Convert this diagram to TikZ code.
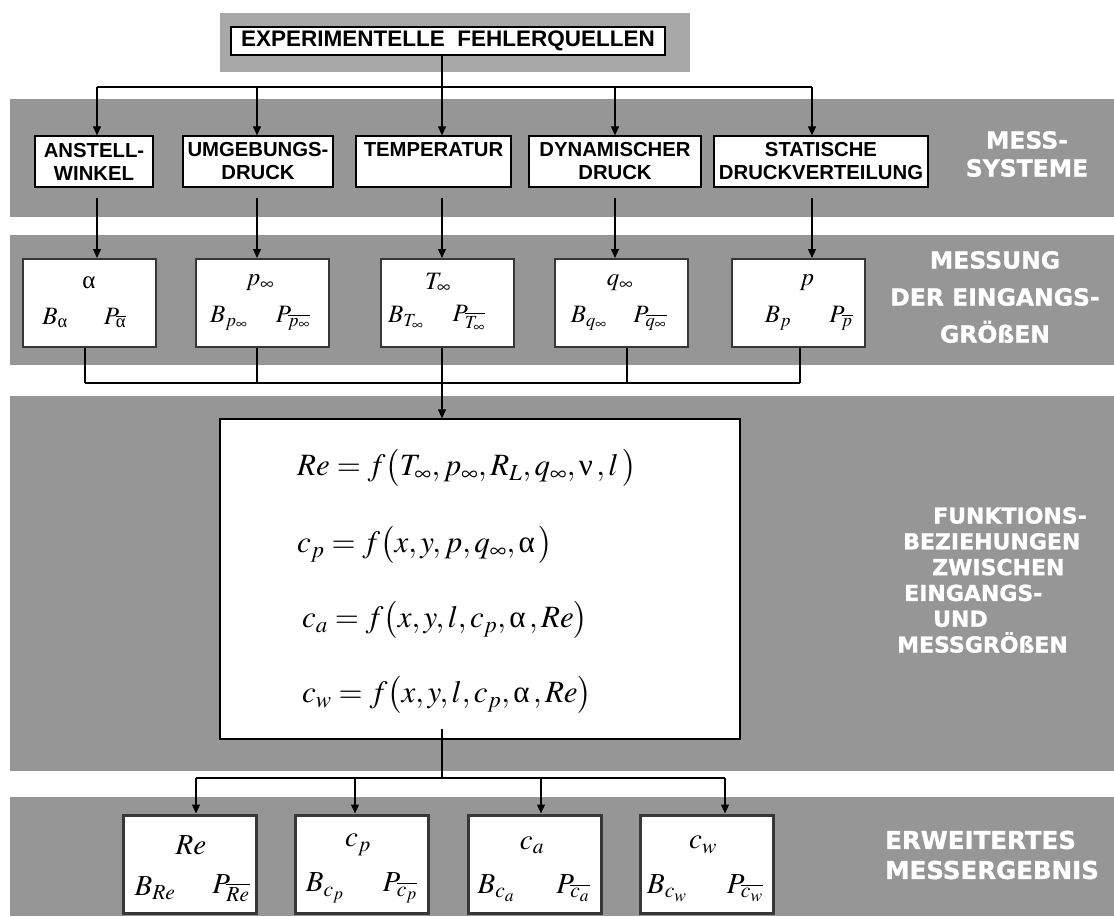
\documentclass[tikz,border=0pt]{standalone}
\usepackage{amsmath}
\usepackage{mathptmx}
\usepackage[no-math]{fontspec}
\setmainfont{Liberation Sans}
\newfontfamily\labelfont{DejaVu Sans}[BoldFeatures={FakeBold=1.2}]
\newfontfamily\grk{Liberation Serif}
\usetikzlibrary{arrows.meta}
\newcommand\ualpha{\text{\grk α}}
\newcommand\unu{\text{\grk ν}}
\definecolor{bandgray}{RGB}{150,150,150}
\definecolor{topgray}{RGB}{168,168,168}
\definecolor{edgegray}{RGB}{55,55,55}
\tikzset{
  wire/.style={line width=1.2pt, draw=black},
  arr/.style={wire, -{Triangle[length=9pt,width=8pt]}},
  sysbox/.style={draw=black, line width=1.3pt, fill=white, inner sep=0pt,
    align=center, font=\bfseries\fontsize{20.3}{23}\selectfont},
  inbox/.style={draw=edgegray, line width=2pt, fill=white,
    minimum width=133pt, minimum height=88pt},
  outbox/.style={draw=edgegray, line width=3pt, fill=white,
    minimum width=133pt, minimum height=98pt},
  sym/.style={inner sep=0pt, font=\fontsize{25}{29}\selectfont},
  bigsym/.style={inner sep=0pt, font=\fontsize{29}{34}\selectfont},
  formula/.style={inner sep=0pt, anchor=west, font=\fontsize{31}{37}\selectfont},
  lbl/.style={text=white, inner sep=0pt, font=\labelfont\bfseries\fontsize{23.5}{28}\selectfont},
}
\begin{document}
\begin{tikzpicture}[x=1pt,y=-1pt]
\useasboundingbox (0,0) rectangle (1114,916);

% background bands
\fill[topgray]  (220,13) rectangle (690,72);
\fill[bandgray] (10,99)  rectangle (1114,217);
\fill[bandgray] (10,235) rectangle (1114,365);
\fill[bandgray] (10,396) rectangle (1114,771);
\fill[bandgray] (10,797) rectangle (1114,916);

% title
\node[sysbox, font=\bfseries\fontsize{22.5}{26}\selectfont,
      minimum width=434pt, minimum height=28pt] (title) at (448,41)
      {EXPERIMENTELLE\ \ FEHLERQUELLEN};

% measuring systems
\node[sysbox, minimum width=118pt, minimum height=51pt] (anst) at (94,161.5) {ANSTELL-\\WINKEL};
\node[sysbox, minimum width=150pt, minimum height=51pt] (umg)  at (258,161.5) {UMGEBUNGS-\\DRUCK};
\node[sysbox, minimum width=155pt, minimum height=51pt] (temp) at (433.5,161.5) {TEMPERATUR\\\mbox{}};
\node[sysbox, minimum width=172pt, minimum height=51pt] (dyn)  at (615,161.5) {DYNAMISCHER\\DRUCK};
\node[sysbox, minimum width=214pt, minimum height=51pt] (stat) at (821,161.5) {STATISCHE\\DRUCKVERTEILUNG};

% column positions of the connectors
\coordinate (t1) at (97,87);
\coordinate (t2) at (257,87);
\coordinate (t3) at (442,87);
\coordinate (t4) at (615,87);
\coordinate (t5) at (812,87);

\draw[arr] (title.south -| t3) -- (t3 |- temp.north);
\draw[wire] (t1) -- (t5);
\foreach \c/\b in {t1/anst, t2/umg, t4/dyn, t5/stat}
  \draw[arr] (\c) -- (\c |- \b.north);

% input quantities
\node[inbox] (a)    at (89,303)  {};
\node[inbox] (pinf) at (262,303) {};
\node[inbox] (Tinf) at (447,303) {};
\node[inbox] (qinf) at (621,303) {};
\node[inbox] (p)    at (798,303) {};

\foreach \c/\u/\b in {t1/anst/a, t2/umg/pinf, t3/temp/Tinf, t4/dyn/qinf, t5/stat/p}
  \draw[arr] ([yshift=-10pt]\u.south -| \c) -- (\c |- \b.north);

\node[sym] (a-v) at (89,283)  {$\ualpha$};
\node[sym] (a-b) at (55,318)  {$B_{\ualpha}$};
\node[sym] (a-p) at (115,318) {$P_{\overline{\ualpha}}$};
\node[sym] (pinf-v) at (260,283) {$p_\infty$};
\node[sym] (pinf-b) at (229,318) {$B_{p_\infty}$};
\node[sym] (pinf-p) at (293,318) {$P_{\overline{p_\infty}}$};
\node[sym] (Tinf-v) at (438,283) {$T_\infty$};
\node[sym] (Tinf-b) at (406,318) {$B_{T_\infty}$};
\node[sym] (Tinf-p) at (469,318) {$P_{\overline{T_\infty}}$};
\node[sym] (qinf-v) at (620,283) {$q_\infty$};
\node[sym] (qinf-b) at (589,318) {$B_{q_\infty}$};
\node[sym] (qinf-p) at (650,318) {$P_{\overline{q_\infty}}$};
\node[sym] (p-v) at (807,283) {$p$};
\node[sym] (p-b) at (778,318) {$B_p$};
\node[sym] (p-p) at (841,318) {$P_{\overline{p}}$};

% collecting line
\coordinate (m1) at (85,383);
\coordinate (m2) at (257,383);
\coordinate (m3) at (442,383);
\coordinate (m4) at (627,383);
\coordinate (m5) at (800,383);
\foreach \c/\b in {m1/a, m2/pinf, m3/Tinf, m4/qinf, m5/p}
  \draw[wire] (\c |- \b.south) -- (\c);
\draw[wire] (m1) -- (m5);

% functional relations
\node[draw=black, line width=1.3pt, fill=white, minimum width=520pt,
      minimum height=320pt] (f) at (480,579) {};
\draw[arr] (m3) -- (m3 |- f.north);
\node[formula] (eq1) at (297,468) {$Re = f\bigl(T_\infty, p_\infty, R_L, q_\infty,\unu\,,l\,\bigr)$};
\node[formula] (eq2) at (297,545) {$c_p = f\bigl(x, y, p, q_\infty,\ualpha\,\bigr)$};
\node[formula] (eq3) at (302,620) {$c_a = f\bigl(x, y, l, c_p,\ualpha\,, Re\bigr)$};
\node[formula] (eq4) at (302,695) {$c_w = f\bigl(x, y, l, c_p,\ualpha\,, Re\bigr)$};

% extended results
\node[outbox] (re) at (189.5,864) {};
\node[outbox] (cp) at (361.5,864) {};
\node[outbox] (ca) at (535,864)   {};
\node[outbox] (cw) at (706.5,864) {};

\coordinate (o0) at (442,778);
\coordinate (r1) at (196,778);
\coordinate (r2) at (355,778);
\coordinate (r3) at (541,778);
\coordinate (r4) at (725,778);
\draw[wire] ([yshift=11pt]f.south -| o0) -- (o0);
\draw[wire] (r1) -- (r4);
\foreach \c/\b in {r1/re, r2/cp, r3/ca, r4/cw}
  \draw[arr] (\c) -- (\c |- \b.north);

\node[bigsym] (re-v) at (191,845) {$Re$};
\node[bigsym] (re-b) at (155,888) {$B_{Re}$};
\node[bigsym] (re-p) at (231,888) {$P_{\overline{Re}}$};
\node[bigsym] (cp-v) at (358,845) {$c_p$};
\node[bigsym] (cp-b) at (325,888) {$B_{c_p}$};
\node[bigsym] (cp-p) at (400,888) {$P_{\overline{c_p}}$};
\node[bigsym] (ca-v) at (532,845) {$c_a$};
\node[bigsym] (ca-b) at (496,888) {$B_{c_a}$};
\node[bigsym] (ca-p) at (573,888) {$P_{\overline{c_a}}$};
\node[bigsym] (cw-v) at (703,845) {$c_w$};
\node[bigsym] (cw-b) at (667,888) {$B_{c_w}$};
\node[bigsym] (cw-p) at (745,888) {$P_{\overline{c_w}}$};

% row labels
\node[lbl, align=center] (l1) at (1027,154) {MESS-\\SYSTEME};
\node[lbl, align=center, font=\labelfont\bfseries\fontsize{23.5}{37}\selectfont] (l2) at (995,297)
  {MESSUNG\\DER EINGANGS-\\GRÖßEN};
\node[lbl, align=left, anchor=north west, font=\labelfont\bfseries\fontsize{22}{25.8}\selectfont] (l3) at (897,507)
  {\hspace*{36pt}FUNKTIONS-\\\hspace*{6pt}BEZIEHUNGEN\\\hspace*{35pt}ZWISCHEN\\\hspace*{7pt}EINGANGS-\\\hspace*{36pt}UND\\MESSGRÖßEN};
\node[lbl, align=left, anchor=west, font=\labelfont\bfseries\fontsize{24.5}{30}\selectfont] (l4) at (885,855)
  {ERWEITERTES\\MESSERGEBNIS};
\end{tikzpicture}
\end{document}
